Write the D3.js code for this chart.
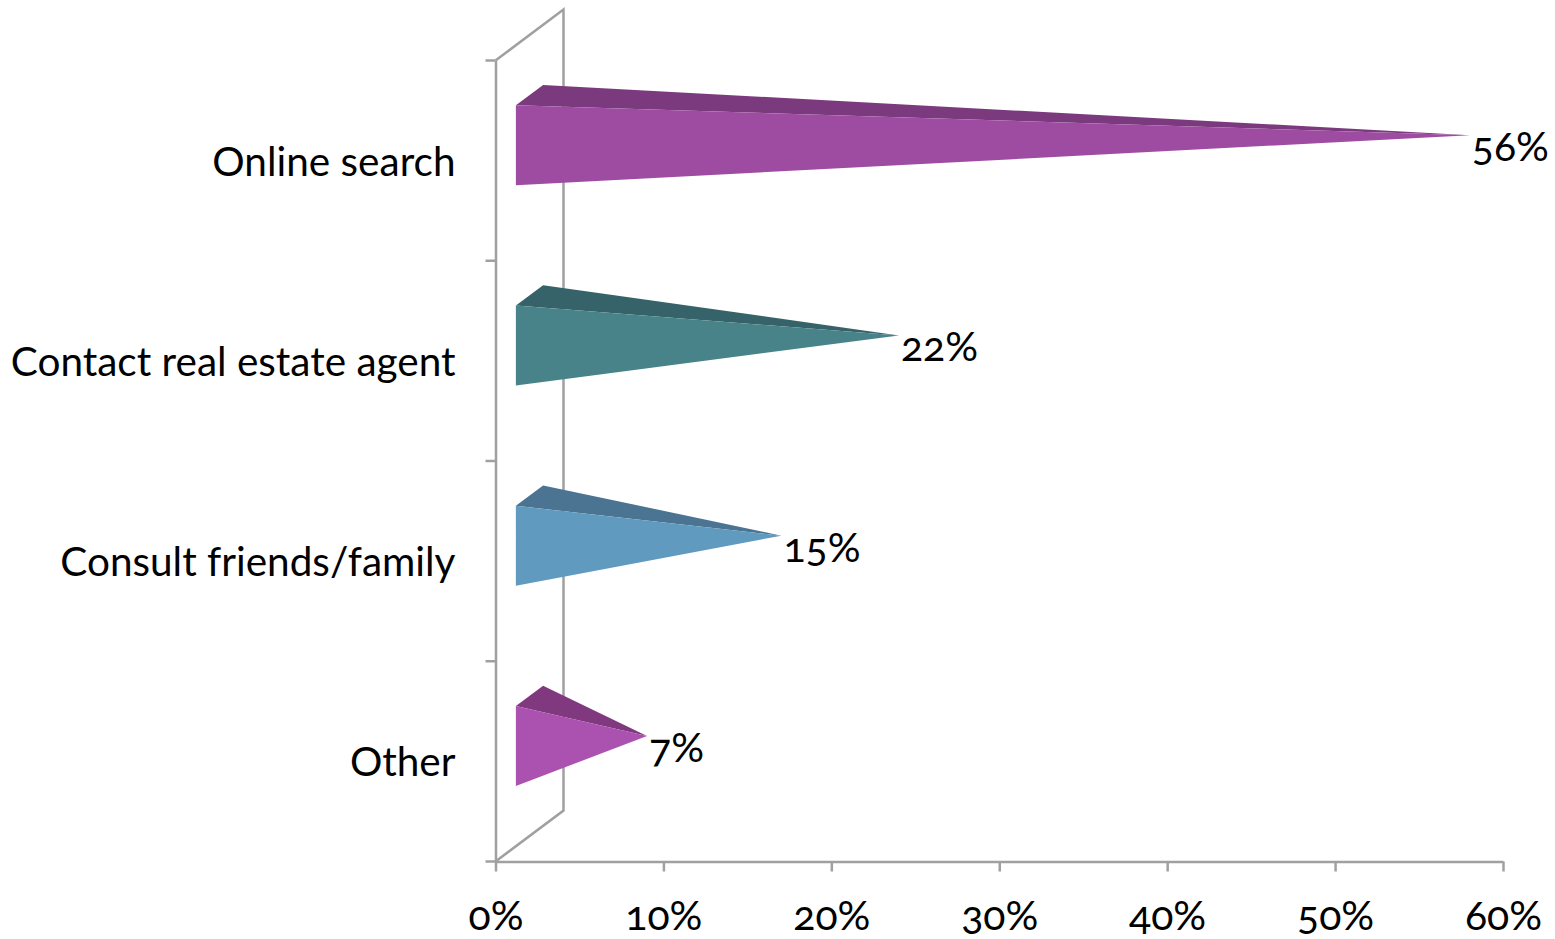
<!DOCTYPE html>
<html>
<head>
<meta charset="utf-8">
<script src="https://cdn.jsdelivr.net/npm/d3@7"></script>
<style>
  html, body { margin: 0; padding: 0; background: #fff; }
  text { font-family: "Lato", "Open Sans", sans-serif; font-feature-settings: "onum" 1; fill: #000; }
</style>
</head>
<body>
<svg id="chart" width="1555" height="939"></svg>
<script>
const CATEGORIES = ["Online search", "Contact real estate agent", "Consult friends/family", "Other"];
const VALUES = [56, 22, 15, 7];
const FRONT_COLORS = ["#9e4ca2", "#488389", "#609abf", "#ab52b0"];
const TOP_COLORS = ["#7b3a7d", "#356369", "#4a7492", "#80397f"];
const X_TICKS = [0, 10, 20, 30, 40, 50, 60];

const LEFT = 495.5, RIGHT = 1503, TOP = 60.5, BOTTOM = 861.5;
const WALL_DX = 68, WALL_DY = -51;

const X_SCALE = d3.scaleLinear().domain([0, 60]).range([LEFT, RIGHT]);
const Y_SCALE = d3.scaleBand().domain(CATEGORIES).range([TOP, BOTTOM]);

// depth runs 0 (front of the floor) to 1 (back wall)
function project(value, y, depth) {
  return [X_SCALE(value) + WALL_DX * depth, y + WALL_DY * depth];
}

const chart = d3.select("#chart");

function createWall() {
  const wall = [
    project(0, TOP, 0),
    project(0, TOP, 1),
    project(0, BOTTOM, 1),
    project(0, BOTTOM, 0)
  ];
  chart.append("path")
    .attr("d", d3.line()(wall))
    .attr("fill", "none")
    .attr("stroke", "#a0a0a0")
    .attr("stroke-width", 2.5);
}

function createBars() {
  const barHalf = 40;
  const rows = CATEGORIES.map((name, i) => {
    const cy = Y_SCALE(name) + Y_SCALE.bandwidth() / 2;
    return {
      topLeft: project(0, cy - barHalf, 0.3),
      bottomLeft: project(0, cy + barHalf, 0.3),
      backLeft: project(0, cy - barHalf, 0.7),
      tip: project(VALUES[i], cy, 0.5),
      front: FRONT_COLORS[i],
      top: TOP_COLORS[i]
    };
  });

  chart.selectAll(".bar-top")
    .data(rows)
    .enter()
    .append("polygon")
    .classed("bar-top", true)
    .attr("points", d => [d.topLeft, d.backLeft, d.tip].join(" "))
    .attr("fill", d => d.top);

  chart.selectAll(".bar-front")
    .data(rows)
    .enter()
    .append("polygon")
    .classed("bar-front", true)
    .attr("points", d => [d.topLeft, d.bottomLeft, d.tip].join(" "))
    .attr("fill", d => d.front);

  chart.selectAll(".label")
    .data(rows)
    .enter()
    .append("text")
    .classed("label", true)
    .text((d, i) => `${VALUES[i]}%`)
    .attr("x", d => d.tip[0] + 2)
    .attr("y", d => d.tip[1] + 26)
    .attr("font-size", 41);
}

function createAxes() {
  const xAxis = d3.axisBottom(X_SCALE)
    .tickValues(X_TICKS)
    .tickFormat(d => `${d}%`)
    .tickSizeInner(10)
    .tickSizeOuter(0)
    .tickPadding(29);
  const gx = chart.append("g")
    .attr("transform", `translate(0, ${BOTTOM})`)
    .call(xAxis);

  const yAxis = d3.axisLeft(Y_SCALE).tickSize(0).tickSizeOuter(0).tickPadding(40);
  const gy = chart.append("g")
    .attr("transform", `translate(${LEFT}, 0)`)
    .call(yAxis);

  // category ticks sit on the band edges, not the centres
  gy.selectAll(".edge")
    .data(d3.range(CATEGORIES.length + 1))
    .enter()
    .append("line")
    .attr("x1", -10)
    .attr("x2", 0)
    .attr("y1", i => TOP + i * Y_SCALE.step())
    .attr("y2", i => TOP + i * Y_SCALE.step());

  [gx, gy].forEach(g => {
    g.attr("font-family", null).attr("font-size", null);
    g.selectAll("path, line").attr("stroke", "#a0a0a0").attr("stroke-width", 2.5);
  });
  gx.selectAll("text").attr("font-size", 41).attr("fill", "#000");
  gy.selectAll("text").attr("font-size", 40.5).attr("fill", "#000").attr("y", 2);
}

createWall();
createBars();
createAxes();
</script>
</body>
</html>
